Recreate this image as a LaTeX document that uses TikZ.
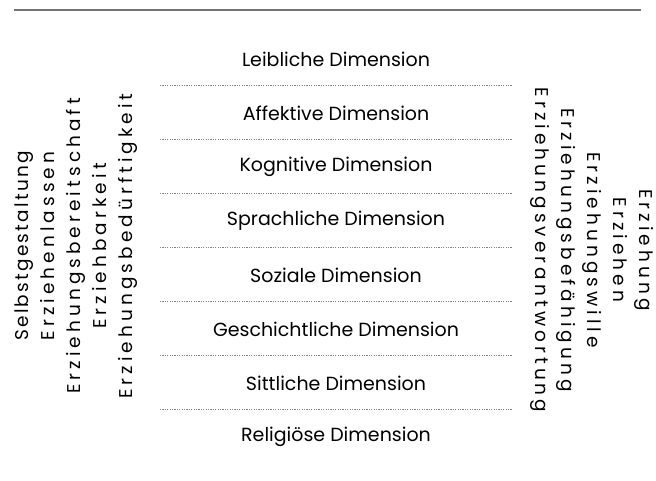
\documentclass[tikz,border=0pt]{standalone}
\usepackage{fontspec}
\setmainfont{Poppins}
\usetikzlibrary{positioning}

\begin{document}
\begin{tikzpicture}[
    x=1pt, y=-1pt,
    dimlabel/.style={font=\fontsize{19}{22}\selectfont, inner sep=0pt},
    sidetext/.style={font=\fontsize{18.5}{26}\selectfont\addfontfeatures{LetterSpace=22}, align=center, inner sep=0pt},
    sepline/.style={gray, line width=0.5pt, dash pattern=on 1.2pt off 1.2pt},
]
  \useasboundingbox (0,0) rectangle (656,480);
  \draw[gray!90!black, line width=1.5pt] (14,10) -- (641,10);

  % dimensions
  \node[dimlabel] (leib) at (336,59) {Leibliche Dimension};
  \node[dimlabel] (affekt) at (336,113) {Affektive Dimension};
  \node[dimlabel] (kogn) at (336,167) {Kognitive Dimension};
  \node[dimlabel] (sprach) at (336,221) {Sprachliche Dimension};
  \node[dimlabel] (sozial) at (336,275) {Soziale Dimension};
  \node[dimlabel] (gesch) at (336,329) {Geschichtliche Dimension};
  \node[dimlabel] (sittl) at (336,383) {Sittliche Dimension};
  \node[dimlabel] (relig) at (336,437) {Religiöse Dimension};

  \foreach \y in {85,139,193,247,301,355,409}
    \draw[sepline] (160,\y) -- (512,\y);

  % left and right
  \node[sidetext, rotate=90] (zoegling) at (76,246) {
    {\addfontfeatures{LetterSpace=12}Selbstgestaltung} \\ Erziehenlassen \\ Erziehungsbereitschaft \\
    Erziehbarkeit \\ Erziehungsbedürftigkeit};
  \node[sidetext, rotate=-90] (erzieher) at (592,250) {
    Erziehung \\ Erziehen \\ Erziehungswille \\
    Erziehungsbefähigung \\ Erziehungsverantwortung};
\end{tikzpicture}
\end{document}
